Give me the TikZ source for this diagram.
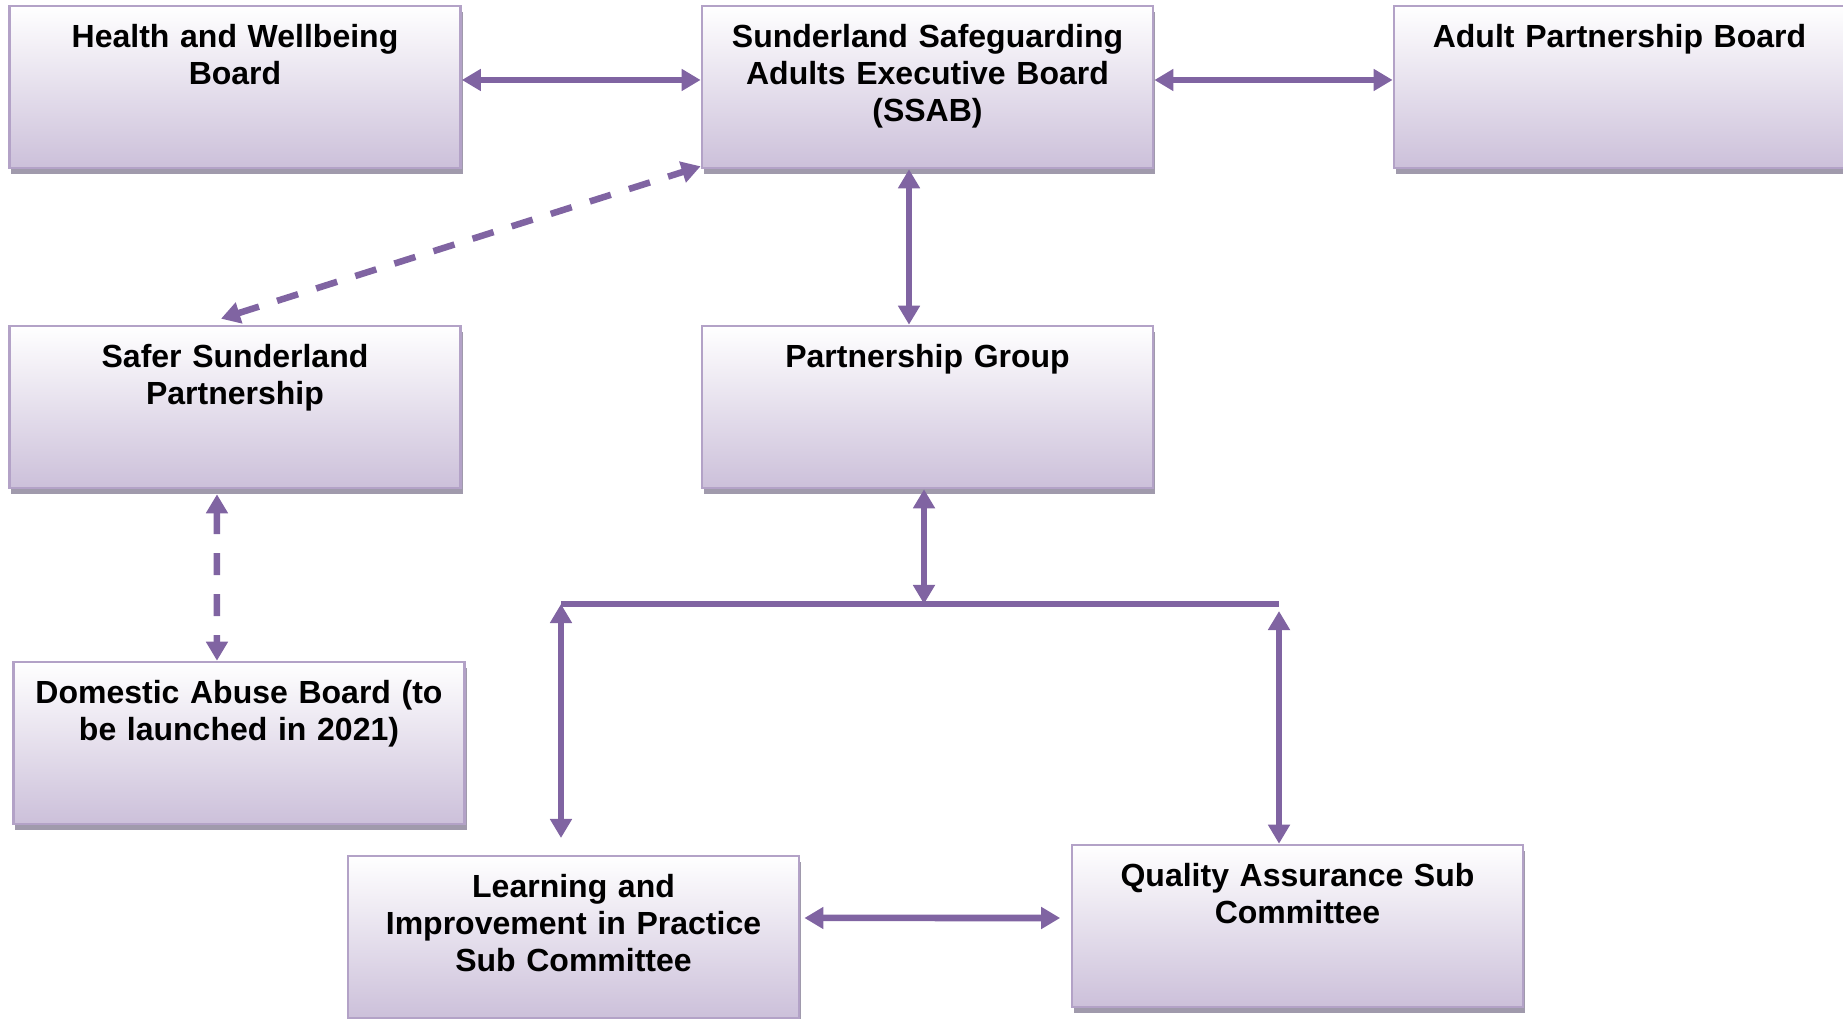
\documentclass[tikz,border=0pt]{standalone}
\usepackage{fontspec}
\setmainfont{Liberation Sans}
\usepackage{tikz}
\usetikzlibrary{
  positioning,
  arrows.meta,
  shadows
}
\definecolor{linkpurple}{RGB}{128,100,162}
\definecolor{boxborder}{RGB}{179,162,199}
\definecolor{boxfill}{RGB}{204,192,218}
\definecolor{boxshadow}{RGB}{160,154,172}

\tikzstyle{board}=[draw=boxborder, line width=0.025cm, top color=white, bottom color=boxfill,
  drop shadow={shadow xshift=0.02cm, shadow yshift=-0.06cm, fill=boxshadow, opacity=1},
  text width=4.31cm, inner xsep=0.1cm, inner ysep=0pt, text height=0.42cm, text depth=1.20cm,
  align=center, font=\bfseries\fontsize{9.1}{10.4}\selectfont]
\tikzstyle{link}=[<->, >={Triangle[length=0.19cm,width=0.21cm]}, linkpurple, line width=0.065cm]
\tikzstyle{dashlink}=[link, dash pattern=on 0.22cm off 0.19cm]

\begin{document}
\begin{tikzpicture}[x=0.01cm,y=-0.01cm]
    \useasboundingbox (0,0) rectangle (1843,1019);

    % BOARDS
    \node[board] (hwb)  at (235,87)    {Health and Wellbeing\\Board};
    \node[board] (ssab) at (927.5,87)  {Sunderland Safeguarding\\Adults Executive Board\\(SSAB)};
    \node[board] (apb)  at (1619.5,87) {Adult Partnership Board};
    \node[board] (ssp)  at (235,407)   {Safer Sunderland\\Partnership};
    \node[board] (pg)   at (927.5,407) {Partnership Group};
    \node[board] (dab)  at (239,743)   {Domestic Abuse Board (to\\be launched in 2021)};
    \node[board] (lip)  at (573.5,937) {Learning and\\Improvement in Practice\\Sub Committee};
    \node[board] (qa)   at (1297.5,926){Quality Assurance Sub\\Committee};

    % TOP ROW
    \draw[link] ([yshift=0.07cm]hwb.east) -- ([yshift=0.07cm]ssab.west);
    \draw[link] ([yshift=0.07cm]ssab.east) -- ([yshift=0.07cm]apb.west);

    % FROM SSAB
    \draw[link] ([xshift=-0.185cm]ssab.south) -- ([xshift=-0.185cm]pg.north);
    \draw[dashlink] ([xshift=-0.14cm,yshift=0.06cm]ssp.north) -- ([yshift=0.03cm]ssab.south west);
    \draw[dashlink] ([xshift=-0.18cm,yshift=-0.05cm]ssp.south) -- ([xshift=-0.22cm]dab.north);

    % BUS to sub committees
    \coordinate (busL) at (561,604);
    \coordinate (busM) at (924,604);
    \coordinate (busR) at (1279,604);
    \coordinate (lipTip) at (561,838);
    \draw[linkpurple, line width=0.065cm] (busL) -- (busR);
    \draw[link] (busM |- pg.south) -- (busM);
    \draw[link] (busL) -- (lipTip);
    \draw[link] ([yshift=-0.07cm]busR) -- (busR |- qa.north);

    % SUB COMMITTEES
    \draw[link] ([xshift=0.04cm,yshift=0.19cm]lip.east) -- ([xshift=-0.105cm,yshift=0.08cm]qa.west);
\end{tikzpicture}
\end{document}
